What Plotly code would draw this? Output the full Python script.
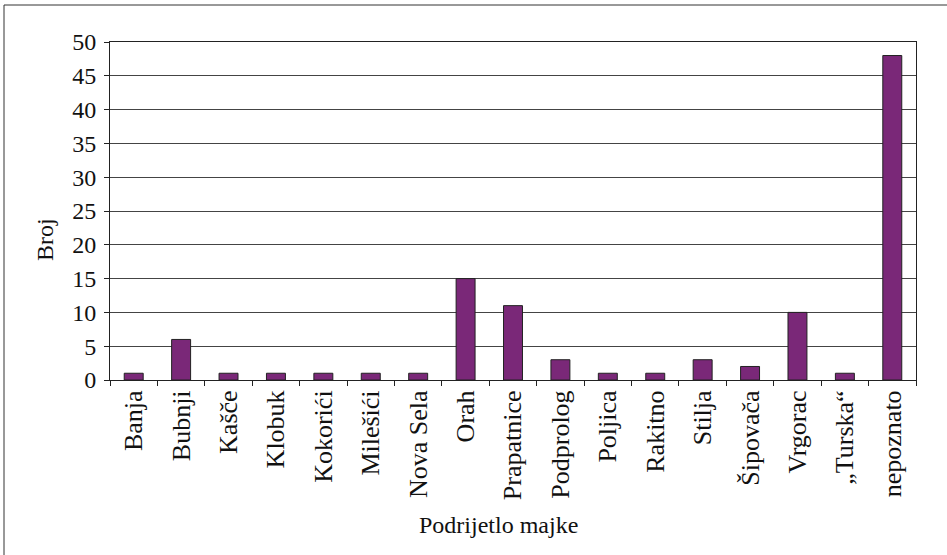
import plotly.graph_objects as go

categories = ["Banja", "Bubnji", "Kašče", "Klobuk", "Kokorići", "Milešići", "Nova Sela",
              "Orah", "Prapatnice", "Podprolog", "Poljica", "Rakitno", "Stilja",
              "Šipovača", "Vrgorac", "„Turska“", "nepoznato"]
values = [1, 6, 1, 1, 1, 1, 1, 15, 11, 3, 1, 1, 3, 2, 10, 1, 48]
y_ticks = [0, 5, 10, 15, 20, 25, 30, 35, 40, 45, 50]

FONT = "Liberation Serif"
FS = 24
W, H = 947, 555
L, R, T, B = 110, 31, 42, 175
pw, ph = W - L - R, H - T - B

def px_x(x):
    return (x - L) / pw

def px_y(y):
    return (H - B - y) / ph

fig = go.Figure(go.Bar(
    x=categories, y=values,
    marker=dict(color="#7A2878", line=dict(color="#222222", width=1)),
))

fig.update_layout(
    width=W, height=H,
    margin=dict(l=L, r=R, t=T, b=B, autoexpand=False),
    paper_bgcolor="white", plot_bgcolor="white",
    bargap=0.6,
    showlegend=False,
    font=dict(family=FONT, size=FS, color="#111111"),
    xaxis=dict(
        type="category",
        tickangle=-90,
        tickson="boundaries",
        ticks="outside", ticklen=5, tickcolor="#222222",
        showline=True, linecolor="#222222", linewidth=1, mirror=True,
        showgrid=False,
        tickfont=dict(family=FONT, size=26, color="#111111"),
        ticklabelstandoff=-1,
        automargin=False,
    ),
    yaxis=dict(
        range=[0, 50],
        tickvals=y_ticks,
        ticks="outside", ticklen=5, tickcolor="#222222",
        showline=True, linecolor="#222222", linewidth=1, mirror=True,
        showgrid=True, gridcolor="#444444", gridwidth=1,
        zeroline=False,
        tickfont=dict(family=FONT, size=FS, color="#111111"),
        ticklabelstandoff=3,
        automargin=False,
    ),
    annotations=[
        dict(text="Broj", x=px_x(45), y=px_y(240), xref="paper", yref="paper",
             xanchor="center", yanchor="middle",
             showarrow=False, textangle=-90, font=dict(family=FONT, size=FS, color="#111111")),
        dict(text="Podrijetlo majke", x=px_x(498), y=px_y(525), xref="paper", yref="paper",
             xanchor="center", yanchor="middle",
             showarrow=False, font=dict(family=FONT, size=FS, color="#111111")),
    ],
    shapes=[
        dict(type="rect", xref="paper", yref="paper",
             x0=px_x(4), x1=px_x(960), y0=px_y(570), y1=px_y(5),
             line=dict(color="#333333", width=1), fillcolor="rgba(0,0,0,0)", layer="below"),
    ],
)

fig.write_html(
    "out.html",
    config={"displayModeBar": False},
    post_script="document.body.style.margin='0';document.body.style.padding='0';document.body.style.overflow='hidden';",
)
